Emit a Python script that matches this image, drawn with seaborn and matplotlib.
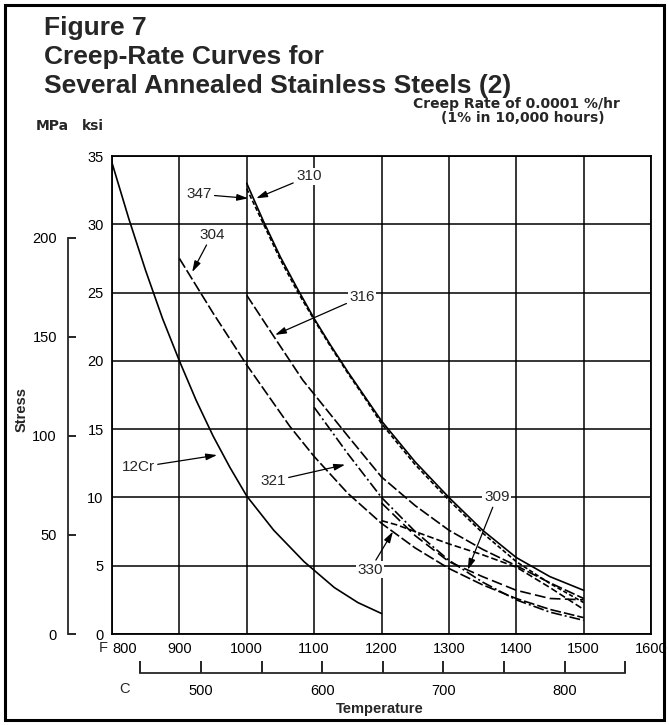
import matplotlib
matplotlib.use("Agg")
import matplotlib.pyplot as plt
import seaborn as sns
import pandas as pd
from matplotlib.patches import Rectangle

# Curve data: temperature (F) and stress (ksi)
cr12_f = [800, 825, 850, 875, 900, 925, 950, 975, 1000, 1040, 1085, 1130, 1165, 1200]
cr12_ksi = [34.5, 30.4, 26.6, 23.1, 20.0, 17.1, 14.5, 12.2, 10.1, 7.6, 5.3, 3.4, 2.3, 1.5]

s310_f = [1000, 1025, 1050, 1075, 1100, 1125, 1150, 1175, 1200, 1250, 1300, 1350, 1400, 1450, 1500]
s310_ksi = [33.0, 30.2, 27.6, 25.3, 23.1, 21.1, 19.2, 17.4, 15.6, 12.6, 10.0, 7.6, 5.6, 4.2, 3.2]

s347_f = [1000, 1025, 1050, 1075, 1100, 1125, 1150, 1175, 1200, 1250, 1300, 1350, 1400, 1450, 1500]
s347_ksi = [32.6, 30.0, 27.4, 25.1, 23.0, 21.0, 19.1, 17.3, 15.4, 12.4, 9.8, 7.4, 5.3, 3.7, 2.3]

s316_f = [1000, 1040, 1083, 1150, 1200, 1250, 1300, 1350, 1400, 1450, 1500]
s316_ksi = [24.8, 21.8, 18.6, 14.5, 11.5, 9.4, 7.6, 6.2, 5.0, 3.75, 2.6]

s304_f = [900, 950, 1000, 1064, 1100, 1150, 1200, 1250, 1300, 1350, 1400, 1450, 1500]
s304_ksi = [27.5, 23.5, 19.7, 15.2, 13.0, 10.3, 8.1, 6.3, 4.8, 3.6, 2.6, 1.8, 1.2]

s321_f = [1100, 1150, 1200, 1250, 1300, 1350, 1400, 1450, 1500]
s321_ksi = [16.6, 13.2, 10.0, 7.5, 5.4, 3.8, 2.5, 1.6, 1.0]

s309_f = [1200, 1250, 1300, 1350, 1400, 1450, 1500]
s309_ksi = [9.6, 7.2, 5.3, 4.2, 3.2, 2.6, 2.5]

s330_f = [1200, 1222, 1250, 1300, 1350, 1400, 1450, 1500]
s330_ksi = [8.3, 8.0, 7.5, 6.6, 5.8, 4.9, 3.4, 1.8]

f_ticks = [800, 900, 1000, 1100, 1200, 1300, 1400, 1500, 1600]
ksi_ticks = [0, 5, 10, 15, 20, 25, 30, 35]
mpa_ticks = [0, 50, 100, 150, 200]
c_ticks = [450, 500, 550, 600, 650, 700, 750, 800, 850]
c_labels = ["", "500", "", "600", "", "700", "", "800", ""]

curves = {
    "12Cr": (cr12_f, cr12_ksi),
    "310": (s310_f, s310_ksi),
    "347": (s347_f, s347_ksi),
    "316": (s316_f, s316_ksi),
    "304": (s304_f, s304_ksi),
    "321": (s321_f, s321_ksi),
    "309": (s309_f, s309_ksi),
    "330": (s330_f, s330_ksi),
}
df = pd.concat(
    [pd.DataFrame({"F": f, "ksi": k, "steel": name}) for name, (f, k) in curves.items()],
    ignore_index=True,
)

dash_styles = {
    "12Cr": "",
    "310": "",
    "347": (2.6, 1.4),
    "316": (6.5, 1.8),
    "304": (6.5, 1.8),
    "321": (6.5, 1.8, 1.2, 1.8),
    "309": (6.5, 2.6),
    "330": (4.0, 1.8),
}

# label text position and arrow tip (F, ksi)
label_pos = {
    "347": ((929, 32.2), (1002, 31.9)),
    "310": ((1092, 33.5), (1014, 31.9)),
    "304": ((948, 29.2), (919, 26.5)),
    "316": ((1171, 24.7), (1042, 21.9)),
    "12Cr": ((839, 12.2), (956, 13.1)),
    "321": ((1039, 11.2), (1146, 12.4)),
    "309": ((1371, 10.0), (1328, 4.7)),
    "330": ((1183, 4.7), (1217, 7.5)),
}

sns.set_style("white")
plt.rcParams["font.family"] = ["Liberation Sans", "DejaVu Sans"]

W, H = 669, 725
fig = plt.figure(figsize=(W / 100, H / 100), dpi=100)
ax = fig.add_axes([112 / W, 1 - 634 / H, 539 / W, 478 / H])

sns.lineplot(data=df, x="F", y="ksi", style="steel", dashes=dash_styles,
             color="black", lw=1.2, estimator=None, sort=False,
             legend=False, ax=ax)

ax.set_xlim(800, 1600)
ax.set_ylim(0, 35)
ax.set_xticks(f_ticks)
ax.set_yticks(ksi_ticks)
ax.grid(True, color="black", lw=1.1)
ax.set_axisbelow(True)
for sp in ax.spines.values():
    sp.set_color("black")
    sp.set_linewidth(1.3)
ax.tick_params(axis="both", length=0, labelsize=10.5, colors="black")
ax.tick_params(axis="x", pad=6)
ax.tick_params(axis="y", pad=6)
ax.xaxis.get_major_ticks()[0].label1.set_horizontalalignment("left")
ax.set_xlabel("")
ax.set_ylabel("")

# MPa scale on the left
mpa = ax.secondary_yaxis(-44 / 539, functions=(lambda k: k * 6.895, lambda m: m / 6.895))
mpa.set_yticks(mpa_ticks)
mpa.tick_params(direction="in", length=6, width=1.2, labelsize=10.5, pad=8, colors="black")
mpa.spines["left"].set_bounds(0, 200)
mpa.spines["left"].set_linewidth(1.3)

# Celsius scale below
cax = ax.secondary_xaxis(-39 / 478, functions=(lambda f: (f - 32) / 1.8, lambda c: c * 1.8 + 32))
cax.set_xticks(c_ticks)
cax.set_xticklabels(c_labels)
cax.tick_params(direction="in", length=9, width=1.2, labelsize=10.5, pad=8, colors="black")
cax.spines["bottom"].set_bounds(450, 850)
cax.spines["bottom"].set_linewidth(1.3)

for name, (txt, tip) in label_pos.items():
    ax.annotate(name, xy=tip, xytext=txt, ha="center", va="center", fontsize=11,
                bbox=dict(boxstyle="square,pad=0.1", fc="white", ec="none"),
                arrowprops=dict(arrowstyle="-|>,head_length=0.6,head_width=0.18",
                                color="black", lw=0.9, shrinkA=1, shrinkB=0))

def fx(px):
    return px / W

def fy(py):
    return 1 - py / H

title_kw = dict(fontsize=19, fontweight="bold", va="baseline")
fig.text(fx(44), fy(35), "Figure 7", **title_kw)
fig.text(fx(44), fy(64), "Creep-Rate Curves for", **title_kw)
fig.text(fx(44), fy(93), "Several Annealed Stainless Steels (2)", **title_kw)

note_kw = dict(fontsize=10, fontweight="bold", family=["DejaVu Sans"], ha="center", va="center")
fig.text(fx(516), fy(104), "Creep Rate of 0.0001 %/hr", **note_kw)
fig.text(fx(523), fy(118), "(1% in 10,000 hours)", **note_kw)
fig.text(fx(52), fy(126), "MPa", **note_kw)
fig.text(fx(93), fy(126), "ksi", **note_kw)

fig.text(fx(22), fy(410), "Stress", fontsize=10.5, fontweight="bold", rotation=90,
         ha="center", va="center")
fig.text(fx(380), fy(709), "Temperature", fontsize=10.5, fontweight="bold",
         ha="center", va="center")
fig.text(fx(103), fy(648), "F", fontsize=10.5, ha="center", va="center")
fig.text(fx(124), fy(689), "C", fontsize=10.5, ha="center", va="center")

fig.patches.append(Rectangle((5 / W, 5 / H), 659 / W, 715 / H, transform=fig.transFigure,
                             fill=False, lw=2.2, ec="black"))

fig.savefig("out.png", dpi=100)
